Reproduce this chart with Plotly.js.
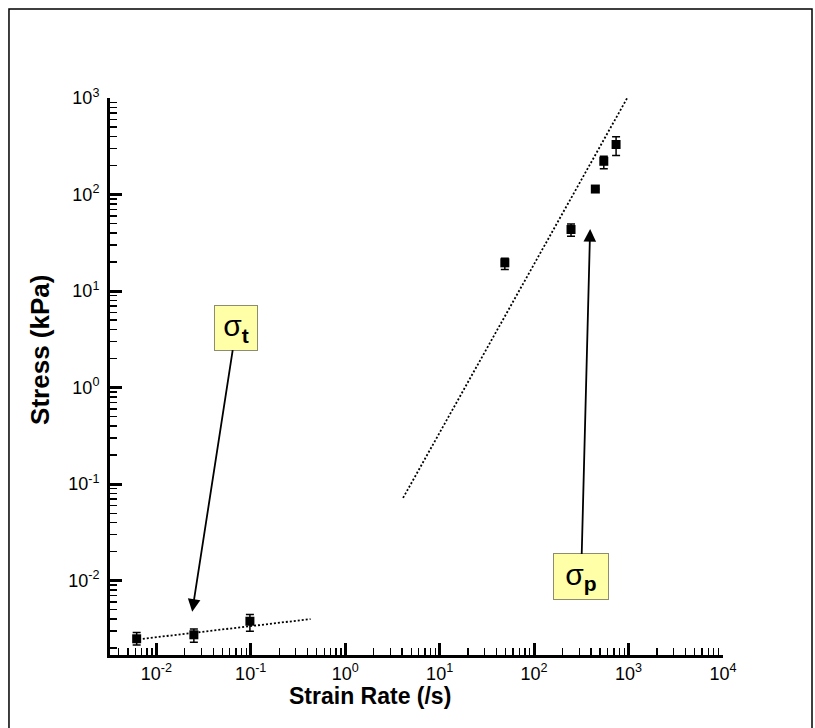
<!DOCTYPE html>
<html>
<head>
<meta charset="utf-8">
<script src="https://cdn.plot.ly/plotly-3.0.1.min.js"></script>
<style>
  html, body { margin: 0; padding: 0; background: #ffffff; }
  #chart { width: 815px; height: 728px; }
</style>
</head>
<body>
<div id="chart"></div>
<script>
// ---- data ----
const strainRateLow = [0.0062, 0.025, 0.098];
const stressLow = [0.0025, 0.00275, 0.0038];
const stressLowErrPlus = [0.0004, 0.0004, 0.00066];
const stressLowErrMinus = [0.00035, 0.00045, 0.00081];

const strainRateHigh = [49, 246, 445, 547, 738];
const stressHigh = [19.6, 43.4, 114, 221, 330];
const stressHighErrPlus = [2.3, 6, 0, 28, 66];
const stressHighErrMinus = [2.9, 6.4, 0, 36, 76];

const fitLowX = [0.0072, 0.43];
const fitLowY = [0.0025, 0.0040];
const fitHighX = [4.1, 990];
const fitHighY = [0.072, 1040];

const xTickVals = [0.01, 0.1, 1, 10, 100, 1000, 10000];
const xTickText = ['10<sup>-2</sup>', '10<sup>-1</sup>', '10<sup>0</sup>', '10<sup>1</sup>', '10<sup>2</sup>', '10<sup>3</sup>', '10<sup>4</sup>'];
const yTickVals = [0.01, 0.1, 1, 10, 100, 1000];
const yTickText = ['10<sup>-2</sup>', '10<sup>-1</sup>', '10<sup>0</sup>', '10<sup>1</sup>', '10<sup>2</sup>', '10<sup>3</sup>'];

const xTitle = 'Strain Rate (/s)';
const yTitle = 'Stress (kPa)';
const annTextT = 'σ<sub><b>t</b></sub>';
const annTextP = 'σ<sub><b>p</b></sub>';
const annTargetT = [0.024, 0.00477];
const annTargetP = [392, 44];

const FONT = 'Liberation Sans, Arial, Helvetica, sans-serif';

const markerStyle = { symbol: 'square', size: 9, color: '#000000' };
const errStyle = { type: 'data', symmetric: false, color: '#000000', thickness: 1.5, width: 4 };

const traces = [
  {
    x: fitLowX, y: fitLowY, mode: 'lines', type: 'scatter',
    line: { color: '#000000', width: 1.8, dash: '2px,2px' }, hoverinfo: 'skip'
  },
  {
    x: fitHighX, y: fitHighY, mode: 'lines', type: 'scatter',
    line: { color: '#000000', width: 1.8, dash: '2px,2px' }, hoverinfo: 'skip'
  },
  {
    x: strainRateLow, y: stressLow, mode: 'markers', type: 'scatter',
    marker: markerStyle,
    error_y: Object.assign({ array: stressLowErrPlus, arrayminus: stressLowErrMinus }, errStyle)
  },
  {
    x: strainRateHigh, y: stressHigh, mode: 'markers', type: 'scatter',
    marker: markerStyle,
    error_y: Object.assign({ array: stressHighErrPlus, arrayminus: stressHighErrMinus }, errStyle)
  }
];

const axisCommon = {
  type: 'log',
  showgrid: false,
  zeroline: false,
  showline: true,
  linecolor: '#000000',
  linewidth: 3,
  ticks: 'inside',
  ticklen: 12,
  tickwidth: 3,
  tickcolor: '#000000',
  tickmode: 'array',
  tickfont: { family: FONT, size: 18, color: '#000000' },
  minor: { ticks: 'inside', ticklen: 7, tickwidth: 1.3, tickcolor: '#000000', dtick: 'D1', showgrid: false },
  mirror: false,
  automargin: false
};

const annBox = {
  showarrow: true, arrowhead: 2, arrowsize: 1.4, arrowwidth: 1.8, arrowcolor: '#000000',
  bgcolor: '#ffffa8', bordercolor: '#8c8c6e', borderwidth: 1, borderpad: 0,
  font: { family: FONT, size: 30, color: '#000000' }
};

const layout = {
  width: 815,
  height: 728,
  paper_bgcolor: '#ffffff',
  plot_bgcolor: '#ffffff',
  showlegend: false,
  margin: { l: 110, r: 92, t: 98, b: 73 },
  xaxis: Object.assign({}, axisCommon, {
    range: [-2.49, 4],
    tickvals: xTickVals,
    ticktext: xTickText,
    ticklabelstandoff: 0
  }),
  yaxis: Object.assign({}, axisCommon, {
    range: [-2.77, 3],
    tickvals: yTickVals,
    ticktext: yTickText,
    ticklabelstandoff: 4
  }),
  annotations: [
    Object.assign({}, annBox, {
      x: Math.log10(annTargetT[0]), y: Math.log10(annTargetT[1]), xref: 'x', yref: 'y',
      text: annTextT, ax: 44, ay: -284, width: 42, height: 44
    }),
    Object.assign({}, annBox, {
      x: Math.log10(annTargetP[0]), y: Math.log10(annTargetP[1]), xref: 'x', yref: 'y',
      text: annTextP, ax: -9, ay: 348, width: 54, height: 45
    }),
    {
      x: 0.424, y: -0.074, xref: 'paper', yref: 'paper', xanchor: 'center', yanchor: 'middle',
      text: '<b>' + xTitle + '</b>', showarrow: false,
      font: { family: FONT, size: 23, color: '#000000' }
    },
    {
      x: -0.114, y: 0.548, xref: 'paper', yref: 'paper', xanchor: 'center', yanchor: 'middle',
      text: '<b>' + yTitle + '</b>', showarrow: false, textangle: -90,
      font: { family: FONT, size: 26, color: '#000000' }
    }
  ],
  shapes: [
    {
      type: 'rect', xref: 'paper', yref: 'paper',
      x0: -0.1648, x1: 1.1452, y0: -0.16, y1: 1.1598,
      line: { color: '#000000', width: 1.5 }, fillcolor: 'rgba(0,0,0,0)', layer: 'below'
    }
  ]
};

Plotly.newPlot('chart', traces, layout, { displayModeBar: false, staticPlot: true });
</script>
</body>
</html>
